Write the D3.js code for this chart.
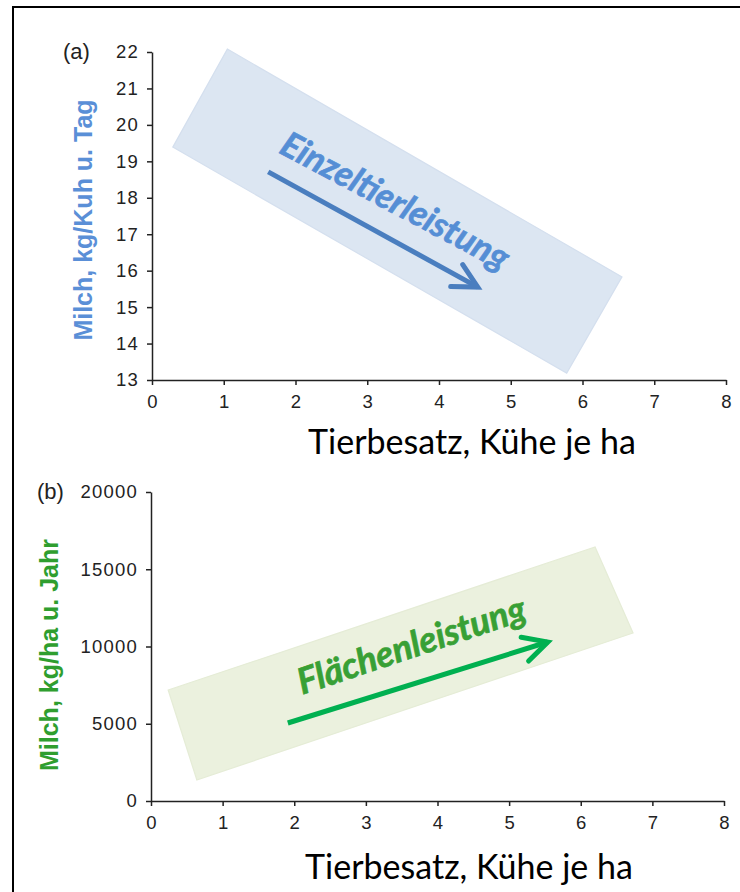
<!DOCTYPE html>
<html><head><meta charset="utf-8">
<script src="https://cdn.jsdelivr.net/npm/d3@7"></script>
<style>body{margin:0;background:#fff}</style>
</head><body><div id="chart"></div>
<script>
// ---- data ----
const xTicks = [0, 1, 2, 3, 4, 5, 6, 7, 8];
const yTicksA = [13, 14, 15, 16, 17, 18, 19, 20, 21, 22];
const yTicksB = [0, 5000, 10000, 15000, 20000];
const xTitle = "Tierbesatz, Kühe je ha";
const yTitleA = "Milch, kg/Kuh u. Tag";
const yTitleB = "Milch, kg/ha u. Jahr";
const panelLabels = ["(a)", "(b)"];
// shaded bands (corner points in data units: Kühe je ha, Milch)
const bandA = [[1.05, 22.08], [6.55, 15.83], [5.78, 13.19], [0.29, 19.39]];
const bandB = [[0.24, 7184], [6.20, 16440], [6.73, 10874], [0.64, 1359]];
// trend arrows (start, end in data units)
const arrowA = [[1.62, 18.71], [4.54, 15.55]];
const arrowB = [[1.91, 5049], [5.54, 10291]];
// trend labels (centre of baseline in data units)
const labelA = {text: "Einzeltierleistung", x: 3.31, y: 17.62};
const labelB = {text: "Flächenleistung", x: 3.69, y: 9320};

// ---- drawing ----
const W = 740, H = 892;
const svg = d3.select("#chart").append("svg").attr("width", W).attr("height", H);

svg.append("rect").attr("x", 13).attr("y", 7).attr("width", 800).attr("height", 950)
  .attr("fill", "none").attr("stroke", "#000").attr("stroke-width", 2);

const defs = svg.append("defs");
function marker(id, color) {
  defs.append("marker").attr("id", id).attr("markerUnits", "userSpaceOnUse")
    .attr("orient", "auto").attr("refX", 0).attr("refY", 0)
    .attr("markerWidth", 1).attr("markerHeight", 1).style("overflow", "visible")
    .append("path").attr("d", "M-24,-12.5L0,0L-24,12.5")
    .attr("fill", "none").attr("stroke", color).attr("stroke-width", 5)
    .attr("stroke-linecap", "round").attr("stroke-linejoin", "miter");
}
marker("headA", "#4a7ebf");
marker("headB", "#00b050");

const tickFont = "'Liberation Sans', Arial, Helvetica, sans-serif";

function panel(cfg) {
  const x = d3.scaleLinear().domain([0, 8]).range(cfg.xr);
  const y = d3.scaleLinear().domain(cfg.yd).range(cfg.yr);
  const g = svg.append("g");

  // band
  const line = d3.line().x(d => x(d[0])).y(d => y(d[1])).curve(d3.curveLinearClosed);
  g.append("path").attr("d", line(cfg.band)).attr("fill", cfg.bandFill)
    .attr("stroke", cfg.bandStroke).attr("stroke-width", 1.2);

  // axes
  const ax = g.append("g").attr("transform", `translate(0,${cfg.yr[0]})`)
    .call(d3.axisBottom(x).tickValues(xTicks).tickSize(5).tickSizeOuter(0).tickPadding(10));
  const ay = g.append("g").attr("transform", `translate(${cfg.xr[0]},0)`)
    .call(d3.axisLeft(y).tickValues(cfg.yTicks).tickFormat(d3.format("d"))
      .tickSize(5).tickSizeOuter(0).tickPadding(8));
  [ax, ay].forEach(a => {
    a.selectAll("path,line").attr("stroke", "#222").attr("stroke-width", 1.5);
    a.selectAll("text").attr("font-family", tickFont).attr("font-size", 18.5).attr("fill", "#222");
  });
  ay.selectAll("text").attr("letter-spacing", 1.2);

  // arrow
  g.append("line")
    .attr("x1", x(cfg.arrow[0][0])).attr("y1", y(cfg.arrow[0][1]))
    .attr("x2", x(cfg.arrow[1][0])).attr("y2", y(cfg.arrow[1][1]))
    .attr("stroke", cfg.arrowColor).attr("stroke-width", 5)
    .attr("marker-end", `url(#${cfg.marker})`);

  // trend label
  g.append("text")
    .attr("transform", `translate(${x(cfg.label.x)},${y(cfg.label.y)}) rotate(${cfg.labelAngle})`)
    .attr("text-anchor", "middle").attr("font-family", "Lato, 'Open Sans', sans-serif")
    .attr("font-weight", "bold").attr("font-style", "italic").attr("font-size", cfg.labelSize)
    .attr("fill", cfg.labelColor).attr("stroke", cfg.labelColor).attr("stroke-width", 0.7)
    .text(cfg.label.text);

  // x title
  g.append("text").attr("x", cfg.xTitleX).attr("y", cfg.xTitleY)
    .attr("text-anchor", "middle").attr("font-family", "Lato, 'Open Sans', sans-serif")
    .attr("font-size", 34).attr("fill", "#000").text(xTitle);

  // y title
  g.append("text").attr("transform", `translate(${cfg.yTitleX},${cfg.yTitleY}) rotate(-90)`)
    .attr("text-anchor", "middle").attr("font-family", tickFont).attr("font-weight", "bold")
    .attr("font-size", 25).attr("fill", cfg.yTitleColor).text(cfg.yTitle);

  // panel label
  g.append("text").attr("x", cfg.plX).attr("y", cfg.plY).attr("font-family", tickFont)
    .attr("font-size", 22).attr("fill", "#222").text(cfg.pl);
}

panel({
  xr: [152, 726], yd: [13, 22], yr: [380, 52], yTicks: yTicksA,
  band: bandA, bandFill: "#dce6f2", bandStroke: "#d4dfee",
  arrow: arrowA, arrowColor: "#4a7ebf", marker: "headA",
  label: labelA, labelAngle: 28, labelSize: 35, labelColor: "#558ed5",
  xTitleX: 472, xTitleY: 454,
  yTitle: yTitleA, yTitleX: 92, yTitleY: 220, yTitleColor: "#5a8fd7",
  pl: panelLabels[0], plX: 63, plY: 59
});
panel({
  xr: [151, 724], yd: [0, 20000], yr: [801, 492], yTicks: yTicksB,
  band: bandB, bandFill: "#ebf1de", bandStroke: "#e5ecd6",
  arrow: arrowB, arrowColor: "#00b050", marker: "headB",
  label: labelB, labelAngle: -18.5, labelSize: 36, labelColor: "#38a035",
  xTitleX: 469, xTitleY: 879,
  yTitle: yTitleB, yTitleX: 58, yTitleY: 655, yTitleColor: "#2f9e2f",
  pl: panelLabels[1], plX: 37, plY: 499
});
</script>
</body></html>
